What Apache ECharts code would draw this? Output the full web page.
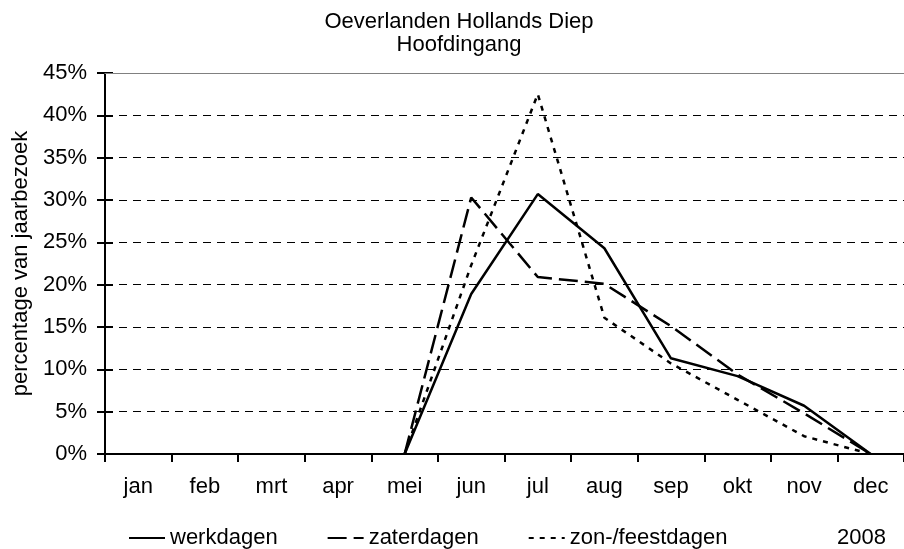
<!DOCTYPE html>
<html>
<head>
<meta charset="utf-8">
<script src="https://cdn.jsdelivr.net/npm/echarts/dist/echarts.min.js"></script>
<style>
    html, body { margin: 0; padding: 0; background: #fff; }
    #main { width: 904px; height: 549px; }
</style>
</head>
<body>
<div id="main"></div>
<script>
    // maanden en percentages van jaarbezoek (2008)
    var months = ['jan', 'feb', 'mrt', 'apr', 'mei', 'jun', 'jul', 'aug', 'sep', 'okt', 'nov', 'dec'];
    var werkdagen = [null, null, null, null, 0, 18.9, 30.7, 24.3, 11.3, 9.2, 5.7, 0];
    var zaterdagen = [null, null, null, null, 0, 30.3, 20.9, 20.1, 15.1, 9.4, 4.8, 0];
    var zonFeestdagen = [null, null, null, null, 0, 22.3, 42.5, 16.1, 10.7, 6.4, 2.1, 0];
    var seriesNames = ['werkdagen', 'zaterdagen', 'zon-/feestdagen'];

    var font = 'Liberation Sans, Arial, sans-serif';

    var myChart = echarts.init(document.getElementById('main'));
    var option = {
        backgroundColor: '#fff',
        animation: false,
        textStyle: {
            fontFamily: font,
            color: '#000'
        },
        title: {
            text: 'Oeverlanden Hollands Diep\nHoofdingang',
            left: 459,
            top: 10,
            padding: 0,
            textAlign: 'center',
            textStyle: {
                fontFamily: font,
                fontSize: 22,
                fontWeight: 'normal',
                lineHeight: 23,
                color: '#000'
            }
        },
        legend: {
            data: seriesNames,
            left: 128,
            top: 527,
            padding: 0,
            itemWidth: 36,
            itemHeight: 14,
            itemGap: 49,
            itemStyle: { opacity: 0 },
            textStyle: {
                fontFamily: font,
                fontSize: 22,
                color: '#000'
            }
        },
        graphic: [
            {
                type: 'text',
                left: 837,
                top: 527,
                style: {
                    text: '2008',
                    font: '22px ' + font,
                    fill: '#000'
                }
            }
        ],
        grid: {
            left: 105,
            right: -3,
            top: 73,
            bottom: 95
        },
        xAxis: [
            {
                type: 'category',
                data: months,
                boundaryGap: true,
                axisLine: { lineStyle: { color: '#000', width: 2 } },
                axisTick: { show: true, length: 8, lineStyle: { color: '#000', width: 2 } },
                axisLabel: { fontSize: 22, color: '#000', margin: 22, fontFamily: font }
            },
            {
                // bovenrand van het plotvlak
                type: 'category',
                data: months,
                position: 'top',
                zlevel: 1,
                axisLine: { show: true, onZero: false, lineStyle: { color: '#808080', width: 1 } },
                axisTick: { show: false },
                axisLabel: { show: false }
            }
        ],
        yAxis: [
            {
                type: 'value',
                min: 0,
                max: 45,
                interval: 5,
                name: 'percentage van jaarbezoek',
                nameLocation: 'middle',
                nameGap: 70,
                nameTextStyle: { fontSize: 22, color: '#000', fontFamily: font },
                axisLine: { show: true, lineStyle: { color: '#000', width: 2 } },
                axisTick: { show: true, length: 8, lineStyle: { color: '#000', width: 2 } },
                axisLabel: {
                    fontSize: 22,
                    color: '#000',
                    margin: 18,
                    fontFamily: font,
                    formatter: '{value}%'
                },
                splitLine: {
                    show: true,
                    lineStyle: {
                        color: ['#000', '#000', '#000', '#000', '#000', '#000', '#000', '#000', '#000', '#808080'],
                        width: 1,
                        type: [8, 6]
                    }
                }
            },
            {
                // ticks die de as kruisen
                type: 'value',
                min: 0,
                max: 45,
                interval: 5,
                position: 'left',
                axisLine: { show: false },
                axisTick: { show: true, inside: true, length: 8, lineStyle: { color: '#000', width: 2 } },
                axisLabel: { show: false },
                splitLine: { show: false }
            }
        ],
        series: [
            {
                name: seriesNames[0],
                type: 'line',
                data: werkdagen,
                symbol: 'none',
                lineStyle: { color: '#000', width: 2.5, type: 'solid' },
                itemStyle: { color: '#000' }
            },
            {
                name: seriesNames[1],
                type: 'line',
                data: zaterdagen,
                symbol: 'none',
                lineStyle: { color: '#000', width: 2.5, type: [19, 7] },
                itemStyle: { color: '#000' }
            },
            {
                name: seriesNames[2],
                type: 'line',
                data: zonFeestdagen,
                symbol: 'none',
                lineStyle: { color: '#000', width: 2.5, type: [5, 6] },
                itemStyle: { color: '#000' }
            }
        ]
    };
    option && myChart.setOption(option);
</script>
</body>
</html>
